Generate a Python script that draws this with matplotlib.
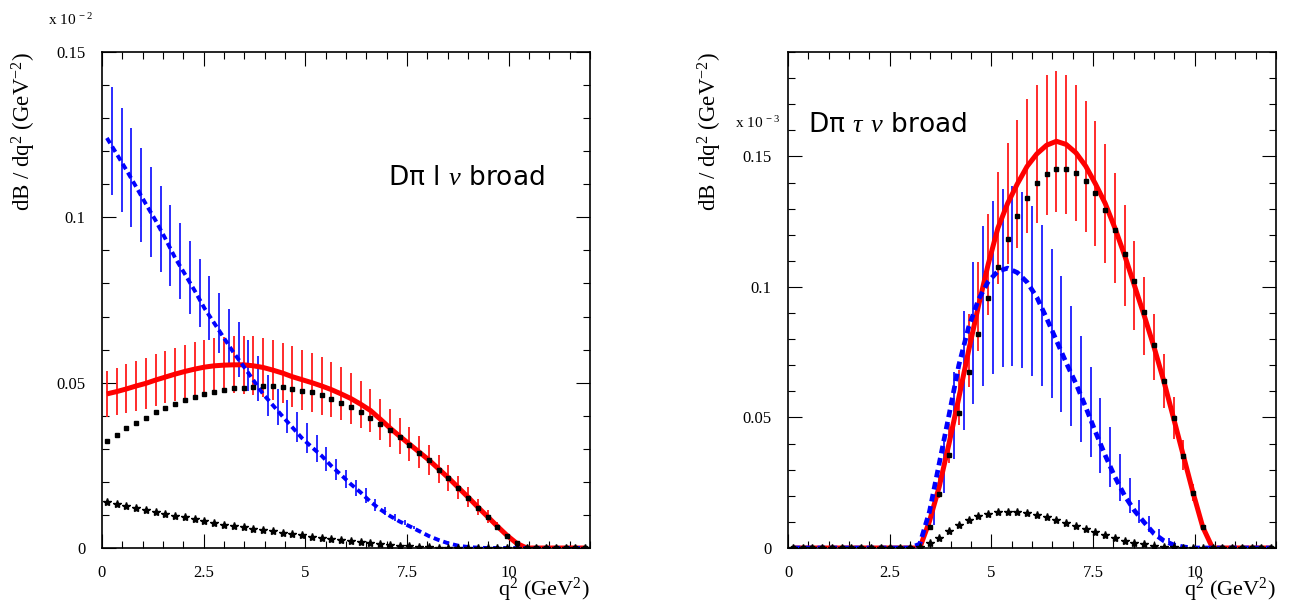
import numpy as np
import matplotlib
matplotlib.use("Agg")
import matplotlib.pyplot as plt
from matplotlib.ticker import MultipleLocator, FixedLocator, FixedFormatter

plt.rcParams['font.family'] = ['Liberation Serif', 'DejaVu Serif']
plt.rcParams['mathtext.fontset'] = 'custom'
plt.rcParams['mathtext.rm'] = 'Liberation Serif'
plt.rcParams['mathtext.it'] = 'Liberation Serif:italic'

# histogram binning in q^2 (50 bins over 0..12 GeV^2)
q2_edges = np.linspace(0.0, 12.0, 51)
q2 = 0.5 * (q2_edges[1:] + q2_edges[:-1])

# ---- left panel: D pi l nu broad (units of 1e-2) ----
left_red = [0.0466, 0.0473, 0.0481, 0.0490, 0.0498, 0.0508, 0.0517, 0.0526, 0.0534, 0.0541,
            0.0547, 0.0551, 0.0553, 0.0554, 0.0554, 0.0551, 0.0546, 0.0538, 0.0529, 0.0518,
            0.0509, 0.0500, 0.0490, 0.0479, 0.0466, 0.0452, 0.0435, 0.0416, 0.0390, 0.0363,
            0.0338, 0.0314, 0.0290, 0.0266, 0.0239, 0.0212, 0.0183, 0.0154, 0.0124, 0.0095,
            0.0066, 0.0038, 0.0014, 0, 0, 0, 0, 0, 0, 0]
left_red_err = [0.0070, 0.0072, 0.0074, 0.0076, 0.0077, 0.0078, 0.0079, 0.0080, 0.0081, 0.0082,
                0.0083, 0.0084, 0.0085, 0.0086, 0.0088, 0.0089, 0.0090, 0.0091, 0.0092, 0.0092,
                0.0091, 0.0089, 0.0087, 0.0084, 0.0080, 0.0076, 0.0071, 0.0066, 0.0062, 0.0058,
                0.0055, 0.0052, 0.0049, 0.0045, 0.0042, 0.0039, 0.0036, 0.0031, 0.0025, 0.0019,
                0.0013, 0.0007, 0.0002, 0, 0, 0, 0, 0, 0, 0]
left_black = [0.0324, 0.0343, 0.0362, 0.0379, 0.0394, 0.0410, 0.0423, 0.0436, 0.0448, 0.0456,
              0.0465, 0.0473, 0.0479, 0.0483, 0.0485, 0.0488, 0.0489, 0.0489, 0.0486, 0.0482,
              0.0476, 0.0471, 0.0462, 0.0452, 0.0439, 0.0427, 0.0411, 0.0394, 0.0376, 0.0357,
              0.0337, 0.0312, 0.0288, 0.0265, 0.0237, 0.0211, 0.0181, 0.0152, 0.0122, 0.0093,
              0.0064, 0.0037, 0.0014, 0, 0, 0, 0, 0, 0, 0]
left_blue = [0.1240, 0.1192, 0.1143, 0.1092, 0.1040, 0.0990, 0.0935, 0.0877, 0.0828, 0.0778,
             0.0725, 0.0680, 0.0635, 0.0590, 0.0550, 0.0508, 0.0466, 0.0432, 0.0398, 0.0365,
             0.0332, 0.0305, 0.0279, 0.0248, 0.0221, 0.0193, 0.0168, 0.0140, 0.0117, 0.0097,
             0.0080, 0.0066, 0.0051, 0.0036, 0.0024, 0.0014, 0.0007, 0.0003, 0.0001, 0,
             0, 0, 0, 0, 0, 0, 0, 0, 0, 0]
left_stars = [0.0138, 0.0133, 0.0127, 0.0121, 0.0115, 0.0109, 0.0104, 0.0098, 0.0093, 0.0087,
              0.0081, 0.0076, 0.0071, 0.0067, 0.0062, 0.0058, 0.0054, 0.0050, 0.0046, 0.0042,
              0.0038, 0.0034, 0.0031, 0.0028, 0.0024, 0.0020, 0.0017, 0.0014, 0.0011, 0.0009,
              0.0007, 0.0005, 0.0003, 0.0002, 0.0001, 0, 0, 0, 0, 0,
              0, 0, 0, 0, 0, 0, 0, 0, 0, 0]
# blue error bars sit on the bin edges
left_blue_bar_val = [0.1230, 0.1174, 0.1121, 0.1068, 0.1017, 0.0965, 0.0915, 0.0867, 0.0819, 0.0771,
                     0.0726, 0.0680, 0.0636, 0.0600, 0.0552, 0.0513, 0.0462, 0.0427, 0.0398, 0.0366,
                     0.0333, 0.0300, 0.0268, 0.0237, 0.0208, 0.0181, 0.0158, 0.0131, 0.0112, 0.0093,
                     0.0077, 0.0062]
left_blue_bar_err = [0.0163, 0.0157, 0.0150, 0.0142, 0.0136, 0.0130, 0.0122, 0.0115, 0.0110, 0.0102,
                     0.0097, 0.0090, 0.0086, 0.0083, 0.0076, 0.0068, 0.0062, 0.0055, 0.0050, 0.0046,
                     0.0045, 0.0041, 0.0036, 0.0031, 0.0028, 0.0025, 0.0022, 0.0018, 0.0013, 0.0010,
                     0.0008, 0.0005]

# ---- right panel: D pi tau nu broad (units of 1e-3) ----
right_red = [0, 0, 0, 0, 0, 0, 0, 0, 0, 0,
             0, 0, 0, 0, 0.0103, 0.0236, 0.0400, 0.0575, 0.0755, 0.0925,
             0.1085, 0.1225, 0.1320, 0.1395, 0.1462, 0.1510, 0.1543, 0.1558, 0.1546, 0.1514,
             0.1463, 0.1395, 0.1320, 0.1225, 0.1120, 0.1005, 0.0890, 0.0770, 0.0640, 0.0498,
             0.0355, 0.0212, 0.0080, 0, 0, 0, 0, 0, 0, 0]
right_red_err = [0, 0, 0, 0, 0, 0, 0, 0, 0, 0,
                 0, 0, 0, 0, 0.0020, 0.0045, 0.0075, 0.0105, 0.0140, 0.0170,
                 0.0193, 0.0215, 0.0232, 0.0246, 0.0257, 0.0265, 0.0268, 0.0270, 0.0266, 0.0260,
                 0.0251, 0.0239, 0.0227, 0.0211, 0.0193, 0.0171, 0.0150, 0.0128, 0.0105, 0.0081,
                 0.0057, 0.0033, 0.0012, 0, 0, 0, 0, 0, 0, 0]
right_black = [0, 0, 0, 0, 0, 0, 0, 0, 0, 0,
               0, 0, 0, 0, 0.0080, 0.0208, 0.0357, 0.0516, 0.0674, 0.0820,
               0.0958, 0.1078, 0.1183, 0.1270, 0.1342, 0.1397, 0.1432, 0.1450, 0.1453, 0.1438,
               0.1407, 0.1360, 0.1296, 0.1220, 0.1126, 0.1022, 0.0904, 0.0777, 0.0640, 0.0498,
               0.0354, 0.0211, 0.0080, 0, 0, 0, 0, 0, 0, 0]
right_blue = [0, 0, 0, 0, 0, 0, 0, 0, 0, 0,
              0, 0, 0, 0.0015, 0.0140, 0.0325, 0.0510, 0.0700, 0.0845, 0.0950,
              0.1020, 0.1060, 0.1072, 0.1055, 0.1018, 0.0960, 0.0880, 0.0795, 0.0710, 0.0630,
              0.0540, 0.0445, 0.0355, 0.0272, 0.0200, 0.0143, 0.0098, 0.0055, 0.0028, 0.0012,
              0.0004, 0, 0, 0, 0, 0, 0, 0, 0, 0]
right_stars = [0, 0, 0, 0, 0, 0, 0, 0, 0, 0,
               0, 0, 0, 0.0003, 0.0018, 0.0040, 0.0065, 0.0088, 0.0107, 0.0122,
               0.0131, 0.0136, 0.0137, 0.0137, 0.0133, 0.0127, 0.0118, 0.0107, 0.0097, 0.0086,
               0.0073, 0.0060, 0.0050, 0.0037, 0.0028, 0.0020, 0.0014, 0.0009, 0.0005, 0.0002,
               0, 0, 0, 0, 0, 0, 0, 0, 0, 0]
right_blue_bar_val = [0.0130, 0.0316, 0.0508, 0.0680, 0.0824, 0.0928, 0.0998, 0.1035, 0.1043, 0.1026,
                      0.0985, 0.0930, 0.0860, 0.0782, 0.0697, 0.0610, 0.0520, 0.0432, 0.0348, 0.0270,
                      0.0200, 0.0140, 0.0092, 0.0055, 0.0030]
right_blue_bar_err = [0.0042, 0.0104, 0.0168, 0.0228, 0.0273, 0.0306, 0.0331, 0.0340, 0.0344, 0.0338,
                      0.0325, 0.0308, 0.0284, 0.0260, 0.0230, 0.0203, 0.0172, 0.0143, 0.0115, 0.0090,
                      0.0067, 0.0045, 0.0029, 0.0017, 0.0010]

xticks = [0, 2.5, 5, 7.5, 10]
xtick_labels = ['0', '2.5', '5', '7.5', '10']
yticks = [0, 0.05, 0.1, 0.15]
ytick_labels = ['0', '0.05', '0.1', '0.15']

W, H = 1297, 612
fig = plt.figure(figsize=(W / 100, H / 100), dpi=100)
ax_l = fig.add_axes([102 / W, 64 / H, 488 / W, 496 / H])
ax_r = fig.add_axes([788 / W, 64 / H, 488 / W, 496 / H])


def draw_panel(ax, red, red_err, black, blue, stars, bbar_x, bbar_val, bbar_err,
               ymax, blue_lw, sq_ms, exponent, exp_pos, title, title_pos):
    red = np.array(red)
    red_err = np.array(red_err)
    m = red_err > 0
    ax.vlines(q2[m], (red - red_err)[m], (red + red_err)[m], colors='#ff1a1a', lw=1.3, zorder=2)
    bv = np.array(bbar_val)
    be = np.array(bbar_err)
    ax.vlines(bbar_x, bv - be, bv + be, colors='#1a1aff', lw=1.3, zorder=2)
    ax.plot(q2, red, color='#ff0000', lw=3.6, solid_capstyle='butt', zorder=3)
    ax.plot(q2, blue, color='#0000ff', lw=blue_lw, ls=(0, (1.6, 1.0)), zorder=4)
    ax.plot(q2, black, ls='none', marker='s', ms=sq_ms, color='black', zorder=5)
    ax.plot(q2, stars, ls='none', marker='*', ms=6.0, color='black', zorder=5)

    ax.set_xlim(0, 12)
    ax.set_ylim(0, ymax)
    ax.xaxis.set_major_locator(FixedLocator(xticks))
    ax.xaxis.set_major_formatter(FixedFormatter(xtick_labels))
    ax.xaxis.set_minor_locator(MultipleLocator(0.5))
    ax.yaxis.set_major_locator(FixedLocator(yticks))
    ax.yaxis.set_major_formatter(FixedFormatter(ytick_labels))
    ax.yaxis.set_minor_locator(MultipleLocator(0.01))
    ax.tick_params(which='both', direction='in', top=True, right=True, width=0.8,
                   labelsize=12, pad=12)
    ax.tick_params(which='major', length=10)
    ax.tick_params(which='minor', length=5)
    for s in ax.spines.values():
        s.set_linewidth(1.2)

    ax.text(-0.16, 1.0, r'dB / dq$^{2}$ (GeV$^{-2}$)', transform=ax.transAxes,
            rotation=90, ha='center', va='top', fontsize=16.5)
    ax.text(1.0, -0.113, r'q$^{2}$ (GeV$^{2}$)', transform=ax.transAxes,
            ha='right', va='bottom', fontsize=16)
    ax.text(exp_pos[0], exp_pos[1], 'x 10$^{\\ %s}$' % exponent, transform=ax.transAxes,
            ha='left', va='baseline', fontsize=11)
    ax.text(title_pos[0], title_pos[1], title, transform=ax.transAxes,
            ha='left', va='baseline', fontsize=19, family=['DejaVu Sans'])


draw_panel(ax_l, left_red, left_red_err, left_black, left_blue, left_stars,
           q2_edges[1:1 + len(left_blue_bar_val)], left_blue_bar_val, left_blue_bar_err,
           0.15, 2.8, 3.4, '-2', (-0.111, 1.054),
           'D\u03c0 l $\\nu$ broad', (0.586, 0.732))
draw_panel(ax_r, right_red, right_red_err, right_black, right_blue, right_stars,
           q2_edges[15:15 + len(right_blue_bar_val)], right_blue_bar_val, right_blue_bar_err,
           0.19, 3.4, 3.0, '-3', (-0.109, 0.847),
           'D\u03c0 $\\tau$ $\\nu$ broad', (0.041, 0.839))

fig.savefig('out.png', dpi=100)
